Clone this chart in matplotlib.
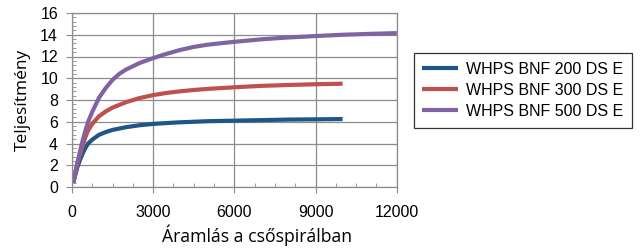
import matplotlib
matplotlib.use("Agg")
import matplotlib.pyplot as plt
from matplotlib.ticker import MultipleLocator

plt.rcParams["font.family"] = ["Liberation Sans", "DejaVu Sans"]

# flow values (x) and output (y)
x_200 = [50, 200, 300, 400, 500, 600, 750, 1000, 1250, 1500, 2000, 2500, 3000,
         3500, 4000, 4500, 5000, 6000, 7000, 8000, 9000, 10000]
y_200 = [0.4, 1.8, 2.5, 3.1, 3.6, 4.0, 4.35, 4.8, 5.05, 5.25, 5.5, 5.68, 5.8,
         5.88, 5.95, 6.0, 6.05, 6.1, 6.15, 6.2, 6.22, 6.25]

x_300 = [50, 200, 300, 400, 500, 600, 750, 1000, 1250, 1500, 2000, 2500, 3000,
         3500, 4000, 4500, 5000, 6000, 7000, 8000, 9000, 10000]
y_300 = [0.4, 2.1, 3.0, 3.8, 4.6, 5.2, 5.8, 6.5, 6.95, 7.3, 7.8, 8.18, 8.45,
         8.65, 8.8, 8.92, 9.02, 9.17, 9.3, 9.38, 9.45, 9.5]

x_500 = [50, 200, 300, 400, 500, 600, 750, 1000, 1250, 1500, 1750, 2000, 2500,
         3000, 3500, 4000, 4500, 5000, 5500, 6000, 7000, 8000, 9000, 10000,
         11000, 12000]
y_500 = [0.4, 2.2, 3.3, 4.3, 5.2, 6.0, 6.9, 8.2, 9.1, 9.85, 10.4, 10.8, 11.4,
         11.85, 12.25, 12.6, 12.88, 13.08, 13.22, 13.35, 13.58, 13.75, 13.88,
         14.0, 14.08, 14.15]

labels = ["WHPS BNF 200 DS E", "WHPS BNF 300 DS E", "WHPS BNF 500 DS E"]
colors = ["#1f5587", "#c0504d", "#8064a2"]

GRID = "#8c8c8c"

fig = plt.figure(figsize=(6.42, 2.5), dpi=100)
ax = fig.add_axes([0.112, 0.252, 0.506, 0.696])

for xs, ys, lab, c in zip([x_200, x_300, x_500], [y_200, y_300, y_500], labels, colors):
    ax.plot(xs, ys, color=c, linewidth=3.0, label=lab, solid_capstyle="butt")

ax.set_xlim(0, 12000)
ax.set_ylim(0, 16)
ax.xaxis.set_major_locator(MultipleLocator(3000))
ax.xaxis.set_minor_locator(MultipleLocator(750))
ax.yaxis.set_major_locator(MultipleLocator(2))
ax.yaxis.set_minor_locator(MultipleLocator(0.4))
ax.grid(True, which="major", color=GRID, linewidth=0.9)
ax.set_axisbelow(True)

for s in ax.spines.values():
    s.set_color(GRID)
    s.set_linewidth(0.9)

ax.tick_params(which="major", length=4, color=GRID, direction="out", labelsize=11.5)
ax.tick_params(which="minor", length=3, color=GRID, direction="in")
ax.tick_params(axis="x", which="major", pad=9)
ax.tick_params(axis="y", which="major", pad=6)

ax.set_xlabel("Áramlás a csőspirálban", fontsize=12.7, family=["Open Sans", "DejaVu Sans"])
ax.xaxis.set_label_coords(0.57, -0.275)
ax.xaxis.label.set_va("center")
ax.set_ylabel("Teljesítmény", fontsize=12.5, family=["Open Sans", "DejaVu Sans"],
              labelpad=7)

leg = ax.legend(loc="upper left", bbox_to_anchor=(1.052, 0.77), fontsize=11.5,
                frameon=True, fancybox=False, handlelength=2.2, handletextpad=0.5,
                borderpad=0.55, labelspacing=0.38, borderaxespad=0)
leg.get_frame().set_edgecolor("black")
leg.get_frame().set_linewidth(0.9)

fig.savefig("out.png", dpi=100)
